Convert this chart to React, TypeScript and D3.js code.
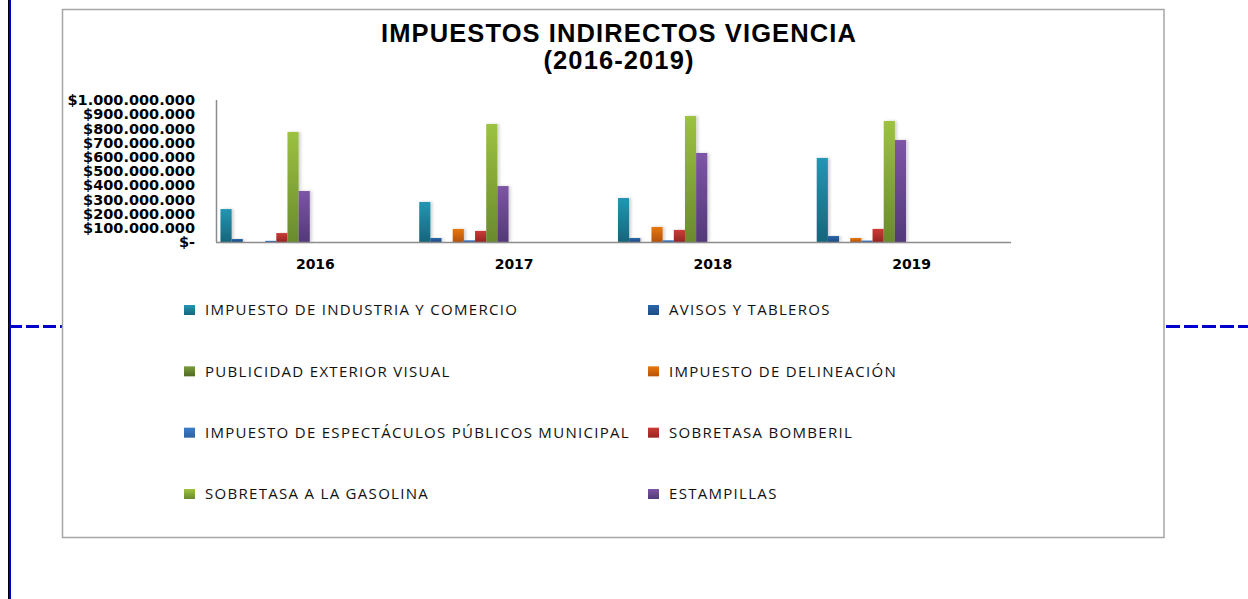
import React from "react";
import * as d3 from "d3";

const years = ["2016", "2017", "2018", "2019"];
const seriesNames = [
  "IMPUESTO DE INDUSTRIA Y COMERCIO",
  "AVISOS Y TABLEROS",
  "PUBLICIDAD EXTERIOR VISUAL",
  "IMPUESTO DE DELINEACIÓN",
  "IMPUESTO DE ESPECTÁCULOS PÚBLICOS MUNICIPAL",
  "SOBRETASA BOMBERIL",
  "SOBRETASA A LA GASOLINA",
  "ESTAMPILLAS",
];
const industria = [232e6, 282e6, 310e6, 592e6];
const avisos = [21e6, 28e6, 28e6, 42e6];
const publicidad = [0, 0, 0, 0];
const delineacion = [0, 92e6, 106e6, 28e6];
const espectaculos = [8e6, 12e6, 12e6, 10e6];
const bomberil = [63e6, 78e6, 85e6, 92e6];
const gasolina = [775e6, 831e6, 887e6, 852e6];
const estampillas = [359e6, 394e6, 627e6, 718e6];
const seriesValues = [industria, avisos, publicidad, delineacion, espectaculos, bomberil, gasolina, estampillas];
const yTicks = [0, 1e8, 2e8, 3e8, 4e8, 5e8, 6e8, 7e8, 8e8, 9e8, 1e9];
const colorsTop = ["#2596B3", "#2A66AA", "#7A9C3C", "#E8780F", "#3C7DC9", "#CD3A37", "#9CC240", "#7D55A6"];
const colorsBottom = ["#16657B", "#1E4C82", "#4F6A22", "#B45309", "#2C62A3", "#982523", "#6A8A2E", "#533978"];

const SLOTS = 17;

function fmt(v: number) {
  if (v === 0) return "$-";
  return "$" + d3.format(",")(v).replace(/,/g, ".");
}

export default function App() {
  const W = 1248, H = 599;
  const x0 = d3.scaleBand<string>().domain(years).range([216, 1011]).padding(0);
  const x1 = d3.scaleBand<number>().domain(d3.range(SLOTS)).range([0, x0.bandwidth()]).paddingInner(0).paddingOuter(0.4);
  const y = d3.scaleLinear().domain([0, 1e9]).range([242, 100]);
  const legendRow = d3.scalePoint<number>().domain([0, 1, 2, 3]).range([310, 494]);
  const legendCol = [184, 648];

  return (
    <svg width={W} height={H} style={{ position: "absolute", left: 0, top: 0, background: "#fff" }}>
      <defs>
        {seriesNames.map((_, i) => (
          <linearGradient key={i} id={`g${i}`} x1="0" y1="0" x2="0" y2="1">
            <stop offset="0" stopColor={colorsTop[i]} />
            <stop offset="1" stopColor={colorsBottom[i]} />
          </linearGradient>
        ))}
        <filter id="sh" x="-50%" y="-10%" width="200%" height="120%">
          <feDropShadow dx="2" dy="0" stdDeviation="1.5" floodColor="#000" floodOpacity="0.18" />
        </filter>
      </defs>
      {/* page decorations */}
      <rect x={8} y={0} width={1} height={H} fill="#000" />
      <rect x={9} y={0} width={2} height={H} fill="#0000CC" />
      <line x1={9} x2={62} y1={326.5} y2={326.5} stroke="#0000CC" strokeWidth={3} strokeDasharray="13 4" />
      <line x1={1166} x2={1248} y1={326.5} y2={326.5} stroke="#0000CC" strokeWidth={3} strokeDasharray="14 4" />
      {/* chart area */}
      <rect x={62.5} y={9.5} width={1101.5} height={528} fill="#fff" stroke="#a6a6a6" strokeWidth={1.5} />
      <text x={619} y={42} textAnchor="middle" fontFamily="'Liberation Sans', Arial, sans-serif" fontWeight="bold" fontSize={25.5} fill="#000" letterSpacing={1.1}>
        IMPUESTOS INDIRECTOS VIGENCIA
      </text>
      <text x={619} y={69} textAnchor="middle" fontFamily="'Liberation Sans', Arial, sans-serif" fontWeight="bold" fontSize={25.5} fill="#000" letterSpacing={1.1}>
        (2016-2019)
      </text>
      {/* y tick labels */}
      {yTicks.map((t) => (
        <text key={t} x={195} y={y(t)} dy="0.36em" textAnchor="end" fontFamily="'DejaVu Sans', Verdana, sans-serif" fontWeight="bold" fontSize={14.5} fill="#000">
          {fmt(t)}
        </text>
      ))}
      {/* bars */}
      {years.map((yr, j) => (
        <g key={yr} transform={`translate(${x0(yr)},0)`}>
          {seriesValues.map((vals, i) =>
            vals[j] > 0 ? (
              <rect key={i} x={x1(i)} y={y(vals[j])} width={x1.bandwidth()} height={y(0) - y(vals[j])} fill={`url(#g${i})`} filter="url(#sh)" />
            ) : null
          )}
        </g>
      ))}
      {/* axes */}
      <line x1={216.5} x2={216.5} y1={y(1e9)} y2={y(0)} stroke="#8c8c8c" strokeWidth={1.5} />
      <line x1={216} x2={1011} y1={y(0) + 0.5} y2={y(0) + 0.5} stroke="#8c8c8c" strokeWidth={1.5} />
      {years.map((yr) => (
        <text key={yr} x={(x0(yr) as number) + x0.bandwidth() / 2} y={269} textAnchor="middle" fontFamily="'DejaVu Sans', Verdana, sans-serif" fontWeight="bold" fontSize={14} fill="#000">
          {yr}
        </text>
      ))}
      {/* legend */}
      {seriesNames.map((name, i) => {
        const cx = legendCol[i % 2];
        const cy = legendRow(Math.floor(i / 2)) as number;
        return (
          <g key={name}>
            <rect x={cx} y={cy - 5} width={11} height={10} fill={`url(#g${i})`} />
            <text x={cx + 21} y={cy} dy="0.36em" fontFamily="'Open Sans', sans-serif" fontSize={15} letterSpacing={1.3} fill="#111">
              {name}
            </text>
          </g>
        );
      })}
    </svg>
  );
}
